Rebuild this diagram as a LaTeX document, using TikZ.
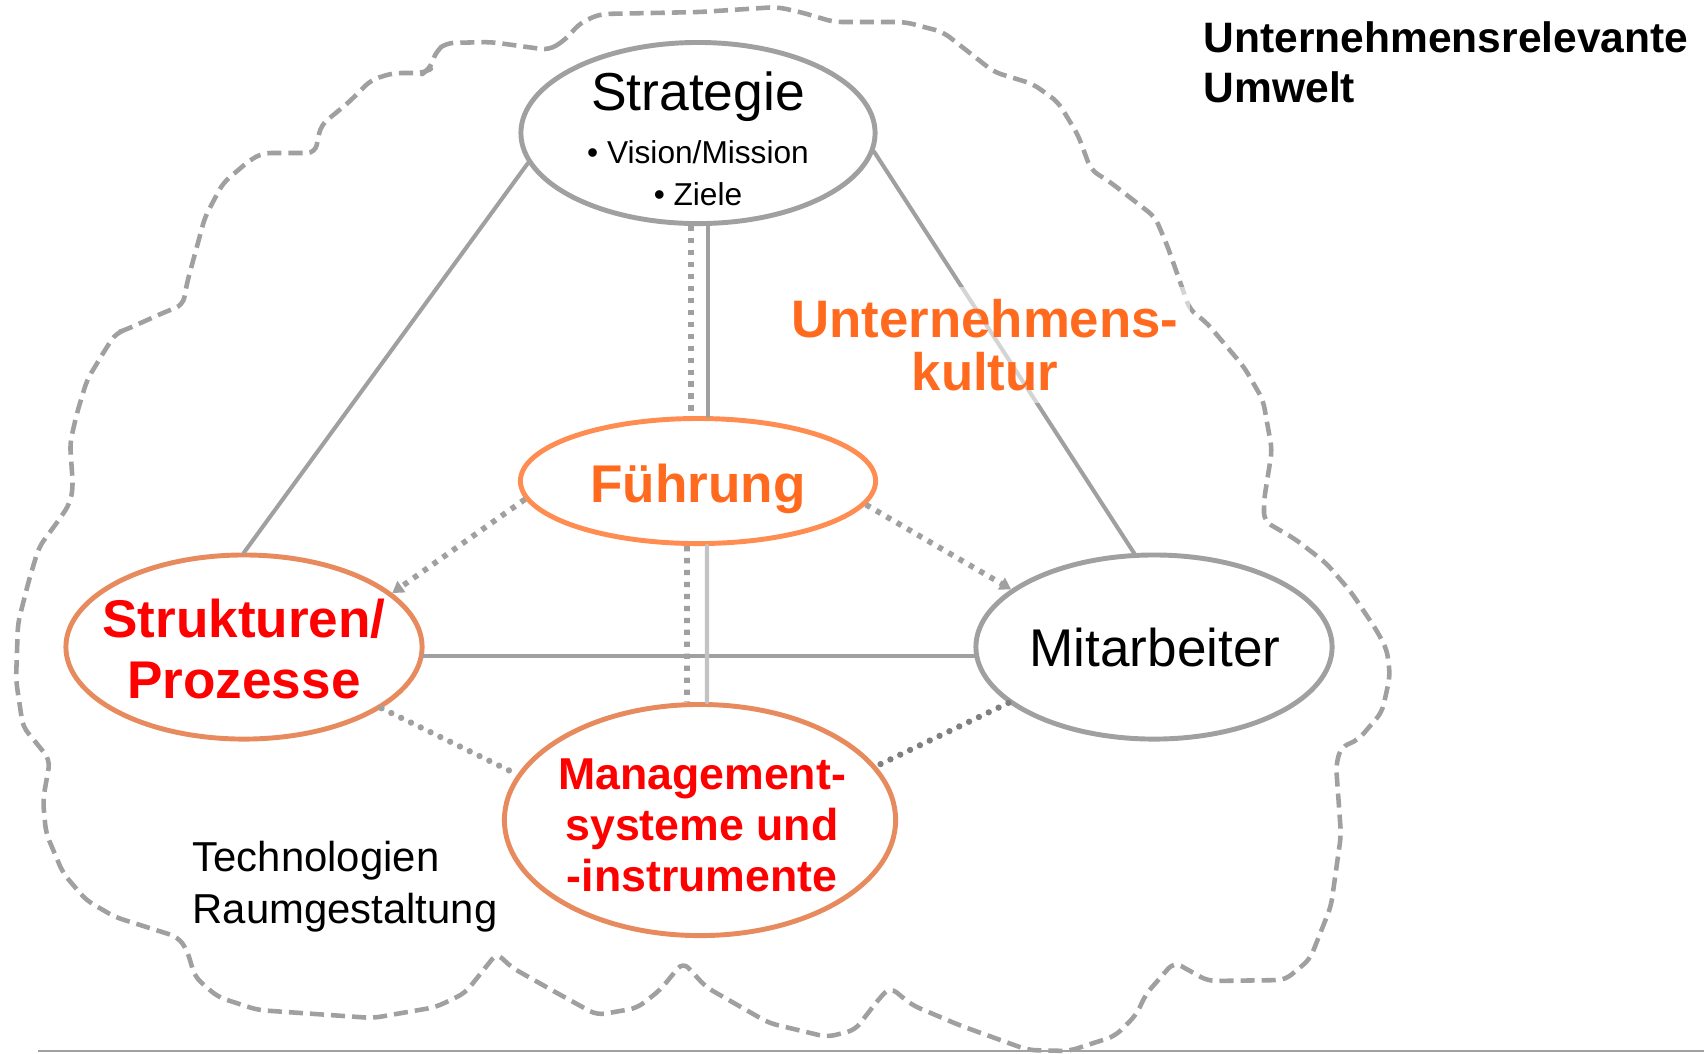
\documentclass[tikz,border=0pt]{standalone}
\usepackage{fontspec}
\setmainfont{Liberation Sans}
\usepackage{tikz}
\usetikzlibrary{arrows.meta,shapes.geometric}
\definecolor{linegray}{RGB}{160,160,160}
\definecolor{palegray}{RGB}{195,195,195}
\definecolor{dotgray}{RGB}{128,128,128}
\definecolor{ringorange}{RGB}{255,141,82}
\definecolor{ringsalmon}{RGB}{231,139,94}
\definecolor{cultorange}{RGB}{255,106,31}
\definecolor{alertred}{RGB}{255,0,0}

\begin{document}
\begin{tikzpicture}[x=0.01cm,y=-0.01cm,line cap=round,line join=round,
		ring/.style={ellipse,draw=linegray,line width=1.4pt,inner sep=0pt},
		link/.style={draw=linegray,line width=1.15pt},
		squaredots/.style={draw=linegray,line width=1.6pt,line cap=butt,dash pattern=on 1.5pt off 1.9pt},
		rounddots/.style={draw=linegray,line width=1.8pt,line cap=round,dash pattern=on 0pt off 3.1pt},
		tip/.style={-{Triangle[length=3.2pt,width=3.8pt]}},
		cloudline/.style={draw=linegray,line width=1.3pt,line cap=butt,dash pattern=on 4pt off 2pt,rounded corners=0.08cm}]
	\useasboundingbox (0,0) rectangle (1704,1053);

	% dashed cloud of the environment
	\draw[cloudline] (549,50) -- (565,40) -- (580,23) -- (600,14) -- (700,12) -- (777,7) -- (800,12) -- (834,22)
		-- (905,22) -- (943,32) -- (975,57) -- (994,72) -- (1033,84) -- (1058,102) -- (1078,135) -- (1091,170)
		-- (1110,182) -- (1155,217) -- (1167,245) -- (1190,310) -- (1206,322) -- (1244,367) -- (1263,400)
		-- (1272,450) -- (1264,500) -- (1264,521) -- (1295,539) -- (1326,563) -- (1351,592) -- (1377,631)
		-- (1387,650) -- (1390,676) -- (1382,712) -- (1358,740) -- (1341,747) -- (1336,765) -- (1341,835)
		-- (1331,906) -- (1310,959) -- (1285,980) -- (1208,981) -- (1174,962) -- (1146,994) -- (1136,1015)
		-- (1115,1036) -- (1069,1051) -- (1028,1050) -- (959,1025) -- (912,1005) -- (890,987) -- (878,1000)
		-- (855,1030) -- (827,1037) -- (769,1023) -- (706,987) -- (683,962) -- (660,990) -- (637,1008)
		-- (597,1015) -- (557,993) -- (511,967) -- (497,953) -- (465,993) -- (436,1007) -- (373,1018)
		-- (258,1010) -- (218,997) -- (195,977) -- (187,950) -- (178,937) -- (115,917) -- (86,900)
		-- (63,873) -- (46,833) -- (43,800) -- (50,760) -- (34,740) -- (23,727) -- (16,680) -- (18,623)
		-- (29,580) -- (39,547) -- (61,517) -- (70,503) -- (73,487) -- (70,443) -- (77,413) -- (87,380)
		-- (105,350) -- (116,333) -- (125,330) -- (165,312) -- (183,305) -- (187,283) -- (205,217)
		-- (223,183) -- (250,160) -- (263,153) -- (315,153) -- (321,125) -- (348,103) -- (371,80)
		-- (393,73) -- (424,73) -- (429,70) -- (437,50) -- (446,43) -- (491,42) -- cycle;

	% bottom rule
	\draw[linegray,line width=0.6pt,line cap=butt] (38,1051) -- (1704,1051);

	% the five fields
	\node[ring,minimum width=3.54cm,minimum height=1.81cm] (strategie) at (698,133) {};
	\node[ring,draw=ringorange,minimum width=3.55cm,minimum height=1.25cm] (fuehrung) at (698,481) {};
	\node[ring,draw=ringsalmon,minimum width=3.56cm,minimum height=1.84cm] (strukturen) at (244,647) {};
	\node[ring,minimum width=3.56cm,minimum height=1.84cm] (mitarbeiter) at (1154,647) {};
	\node[ring,draw=ringsalmon,minimum width=3.91cm,minimum height=2.31cm] (management) at (700,820) {};

	% solid links
	\draw[link] (strategie.190) -- (strukturen.north);
	\draw[link] (strategie.-6) -- (mitarbeiter.102);
	\draw[link] (strukturen.-3) -- (mitarbeiter.183);
	\draw[link] ([xshift=0.1cm]strategie.south) -- ([xshift=0.1cm]fuehrung.north);
	\draw[link,draw=palegray] ([xshift=0.09cm]fuehrung.south) -- ([xshift=0.07cm]management.north);

	% dotted links
	\draw[squaredots] ([xshift=-0.07cm]strategie.south) -- ([xshift=-0.07cm]fuehrung.north);
	\draw[squaredots] ([xshift=-0.11cm]fuehrung.south) -- ([xshift=-0.13cm]management.north);
	\draw[squaredots,tip] (fuehrung.186) -- (strukturen.20);
	\draw[squaredots,tip] (fuehrung.-8) -- (mitarbeiter.158);
	\draw[rounddots] (strukturen.-24) -- (management.166);
	\draw[rounddots,draw=dotgray] (mitarbeiter.201) -- (management.17);

	% labels
	\node[anchor=base,font=\fontsize{15.2}{17}\selectfont] (strategie-titel) at (698,110) {Strategie};
	\node[anchor=base,font=\fontsize{9}{10}\selectfont] (strategie-vision) at (698,163) {• Vision/Mission};
	\node[anchor=base,font=\fontsize{9}{10}\selectfont] (strategie-ziele) at (698,205) {• Ziele};
	\node[anchor=base,font=\bfseries\fontsize{15.1}{17}\selectfont,text=cultorange] (fuehrung-text) at (698,502) {Führung};
	\node[align=center,font=\bfseries\fontsize{15.1}{17.6}\selectfont,text=alertred] (strukturen-text) at (244,649) {Strukturen/\\Prozesse};
	\node[anchor=base,font=\fontsize{15.1}{17}\selectfont] (mitarbeiter-text) at (1155,666) {Mitarbeiter};
	\node[align=center,font=\bfseries\fontsize{12.7}{14.5}\selectfont,text=alertred] (management-text) at (702,825) {Management-\\systeme und\\-instrumente};
	\node[align=center,font=\bfseries\fontsize{15}{15.1}\selectfont,text=cultorange,fill=white,fill opacity=0.55,text opacity=1] (kultur) at (985,345) {Unternehmens-\\kultur};
	\node[anchor=north west,inner sep=0pt,align=left,font=\fontsize{11.9}{14.8}\selectfont] (technik) at (192,840) {Technologien\\Raumgestaltung};
	\node[anchor=north west,inner sep=0pt,align=left,font=\bfseries\fontsize{12.1}{14.2}\selectfont] (umwelt) at (1203,21) {Unternehmensrelevante\\Umwelt};
\end{tikzpicture}
\end{document}
